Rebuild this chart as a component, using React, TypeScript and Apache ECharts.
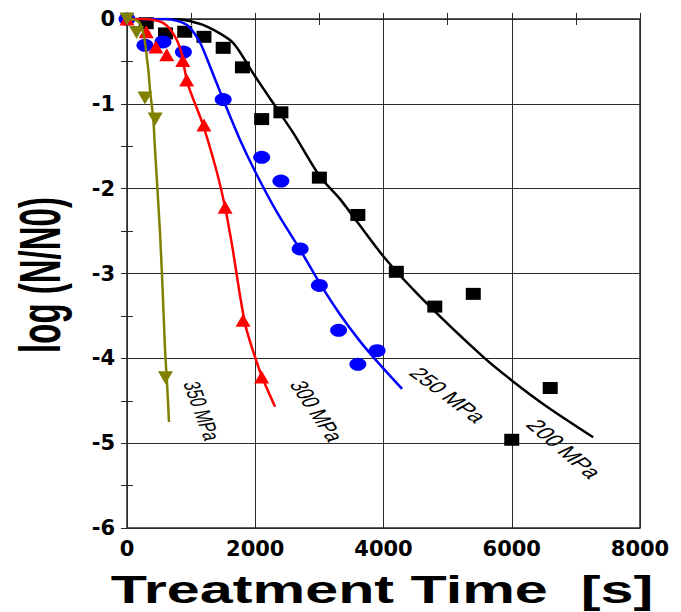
import React, { useEffect, useRef } from "react";
import * as echarts from "echarts";

// ---- data ----
const X_MIN = 0;
const X_MAX = 8000;
const X_INTERVAL = 2000;
const Y_MIN = -6;
const Y_MAX = 0;
const Y_INTERVAL = 1;

const pts200: [number, number][] = [
  [300, -0.05], [600, -0.17], [900, -0.15], [1200, -0.21], [1500, -0.34],
  [1800, -0.57], [2100, -1.18], [2400, -1.1], [3000, -1.87], [3600, -2.31],
  [4200, -2.98], [4800, -3.39], [5400, -3.24], [6000, -4.96], [6600, -4.35],
];
const fit200: [number, number][] = [
  [0, 0], [620, 0], [874, -0.01], [1248, -0.09], [1654, -0.28], [1966, -0.64],
  [2278, -0.99], [2590, -1.34], [3010, -1.86], [3320, -2.12], [4000, -2.8],
  [4620, -3.31], [5550, -3.98], [6000, -4.26], [6550, -4.57], [7270, -4.93],
];

const pts250: [number, number][] = [
  [0, 0], [280, -0.31], [560, -0.27], [880, -0.39], [1500, -0.95], [2100, -1.63],
  [2400, -1.91], [2700, -2.71], [3000, -3.14], [3300, -3.67], [3600, -4.07], [3900, -3.91],
];
const fit250: [number, number][] = [
  [0, 0], [620, 0], [936, -0.07], [1140, -0.28], [1295, -0.56], [1500, -0.95],
  [1760, -1.42], [2000, -1.8], [2340, -2.28], [2700, -2.72], [3010, -3.12],
  [3320, -3.48], [3635, -3.8], [3916, -4.05], [4290, -4.36],
];

const pts300: [number, number][] = [
  [0, 0], [300, -0.15], [450, -0.33], [620, -0.42], [870, -0.49], [930, -0.72],
  [1200, -1.25], [1530, -2.22], [1810, -3.55], [2100, -4.22],
];
const fit300: [number, number][] = [
  [0, 0], [280, 0], [546, -0.04], [702, -0.15], [827, -0.34], [905, -0.62],
  [952, -0.78], [1186, -1.25], [1400, -1.8], [1530, -2.22], [1650, -2.72],
  [1760, -3.25], [1850, -3.62], [1960, -3.9], [2106, -4.22], [2309, -4.57],
];

const pts350: [number, number][] = [
  [0, 0], [150, -0.16], [280, -0.93], [440, -1.18], [600, -4.23],
];
const fit350: [number, number][] = [
  [0, 0], [125, -0.01], [200, -0.05], [250, -0.15], [280, -0.27], [310, -0.46],
  [333, -0.6], [359, -0.84], [411, -1.19], [437, -1.54], [515, -2.52],
  [562, -3.31], [593, -3.9], [624, -4.29], [655, -4.75],
];

const curveLabels = ["350 MPa", "300 MPa", "250 MPa", "200 MPa"];
const X_TITLE = "Treatment Time  [s]";
const Y_TITLE = "log (N/N0)";

const BLACK = "#000000";
const BLUE = "#0000ff";
const RED = "#ff0000";
const OLIVE = "#808000";
const GRID = "#2a2a2a";

const STRETCH = 1.56;

export default function App() {
  const ref = useRef<HTMLDivElement>(null);

  useEffect(() => {
    document.body.style.margin = "0";
    if (!ref.current) return;
    const chart = echarts.init(ref.current, null, { renderer: "svg" });

    const tick = { show: true, inside: true, length: 6, lineStyle: { color: GRID, width: 1 } };
    const minor = { show: true, splitNumber: 2, length: 6, lineStyle: { color: GRID, width: 1 } };
    const labelStyle = {
      fontFamily: "DejaVu Sans",
      fontWeight: "bold" as const,
      fontSize: 21,
      color: "#000",
      formatter: (v: number) => String(v),
    };

    const lineSeries = (data: [number, number][], color: string, z: number) => ({
      type: "line",
      data,
      showSymbol: false,
      smooth: 0.25,
      lineStyle: { color, width: 2.5 },
      z,
      silent: true,
    });
    const scatterSeries = (
      data: [number, number][],
      color: string,
      symbol: string,
      size: number[],
      z: number,
      rotate = 0
    ) => ({
      type: "scatter",
      data,
      symbol,
      symbolSize: size,
      symbolRotate: rotate,
      itemStyle: { color, opacity: 1 },
      z,
      silent: true,
    });

    const mkLabel = (text: string, cx: number, cy: number, deg: number, size: number) => ({
      type: "text",
      x: cx / STRETCH,
      y: cy,
      rotation: (-deg * Math.PI) / 180,
      style: {
        text,
        fontFamily: "Liberation Sans",
        fontSize: size,
        fontWeight: "normal",
        fill: "#000",
        align: "center",
        verticalAlign: "middle",
        textAlign: "center",
        textVerticalAlign: "middle",
      },
    });

    chart.setOption({
      animation: false,
      backgroundColor: "#ffffff",
      grid: {
        left: 127,
        right: 41,
        top: 19,
        bottom: 84,
        show: true,
        borderColor: GRID,
        borderWidth: 1.5,
        backgroundColor: "transparent",
      },
      xAxis: [
        {
          type: "value",
          min: X_MIN,
          max: X_MAX,
          interval: X_INTERVAL,
          position: "bottom",
          axisLine: { show: false },
          axisTick: tick,
          minorTick: minor,
          splitLine: { show: true, lineStyle: { color: GRID, width: 1 } },
          axisLabel: { ...labelStyle, margin: 10 },
        },
        {
          type: "value",
          min: X_MIN,
          max: X_MAX,
          interval: X_INTERVAL,
          position: "top",
          axisLine: { show: false },
          axisTick: tick,
          minorTick: minor,
          splitLine: { show: false },
          axisLabel: { show: false },
        },
      ],
      yAxis: [
        {
          type: "value",
          min: Y_MIN,
          max: Y_MAX,
          interval: Y_INTERVAL,
          position: "left",
          axisLine: { show: false },
          axisTick: tick,
          minorTick: minor,
          splitLine: { show: true, lineStyle: { color: GRID, width: 1 } },
          axisLabel: { ...labelStyle, margin: 12 },
        },
        {
          type: "value",
          min: Y_MIN,
          max: Y_MAX,
          interval: Y_INTERVAL,
          position: "right",
          axisLine: { show: false },
          axisTick: tick,
          minorTick: minor,
          splitLine: { show: false },
          axisLabel: { show: false },
        },
      ],
      series: [
        lineSeries(fit200, BLACK, 2),
        scatterSeries(pts200, BLACK, "rect", [15, 12], 3),
        lineSeries(fit250, BLUE, 4),
        scatterSeries(pts250, BLUE, "circle", [17, 13], 5),
        lineSeries(fit300, RED, 6),
        scatterSeries(pts300, RED, "triangle", [15, 13], 7),
        lineSeries(fit350, OLIVE, 8),
        scatterSeries(pts350, OLIVE, "triangle", [15, 13], 9, 180),
      ],
      graphic: [
        {
          type: "group",
          x: 0,
          y: 0,
          scaleX: STRETCH,
          children: [
            mkLabel(curveLabels[0], 202, 411, 76.7, 15),
            mkLabel(curveLabels[1], 317, 411, 66.7, 16),
            mkLabel(curveLabels[2], 448, 395, 49.3, 16.5),
            mkLabel(curveLabels[3], 564, 449, 52.8, 17),
            {
              type: "text",
              x: 382 / STRETCH,
              y: 590,
              style: {
                text: X_TITLE,
                fontFamily: "Liberation Sans",
                fontSize: 38,
                fontWeight: "bold",
                fill: "#000",
                align: "center",
                verticalAlign: "middle",
                textAlign: "center",
                textVerticalAlign: "middle",
              },
            },
            {
              type: "text",
              x: 40 / STRETCH,
              y: 275,
              rotation: Math.PI / 2,
              scaleY: 1.12,
              style: {
                text: Y_TITLE,
                fontFamily: "Liberation Sans",
                fontSize: 33,
                fontWeight: "bold",
                fill: "#000",
                align: "center",
                verticalAlign: "middle",
                textAlign: "center",
                textVerticalAlign: "middle",
              },
            },
          ],
        },
      ],
    });

    return () => {
      chart.dispose();
    };
  }, []);

  return <div ref={ref} style={{ width: 681, height: 612 }} />;
}
